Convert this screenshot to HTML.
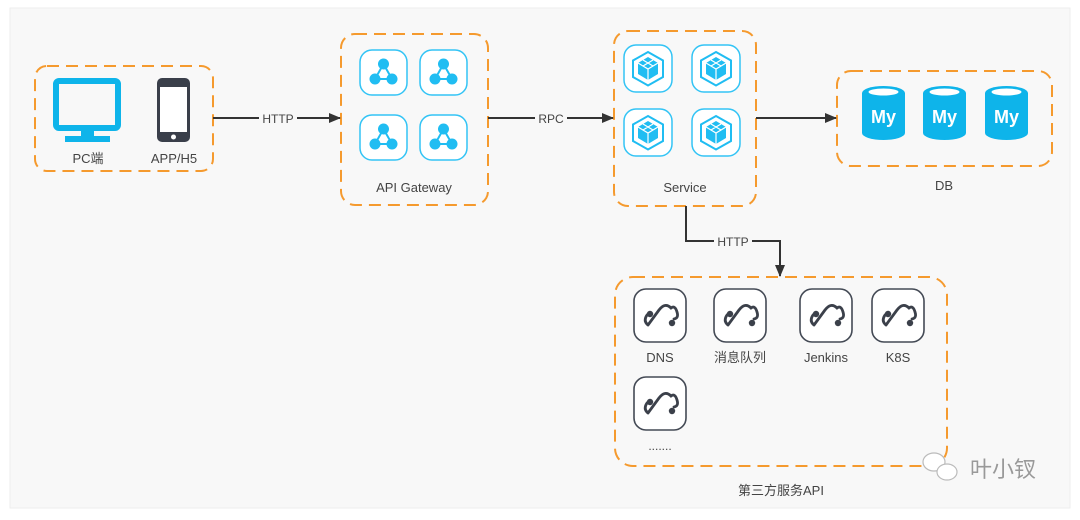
<!DOCTYPE html>
<html><head><meta charset="utf-8"><style>
body{margin:0;background:#fff;}
svg text{font-family:"Liberation Sans","Noto Sans CJK SC",sans-serif;fill:#444;}
</style></head><body>
<svg width="1080" height="515" xmlns="http://www.w3.org/2000/svg">
<defs>
<marker id="ar" markerWidth="12" markerHeight="10" refX="11" refY="5" orient="auto" markerUnits="userSpaceOnUse"><path d="M0,0 L12,5 L0,10 Z" fill="#333"/></marker>
<g id="gw">
<rect x="1" y="1" width="47" height="45" rx="12" fill="#fff" stroke="#33c4f5" stroke-width="1.5"/>
<circle cx="24.5" cy="15" r="5.5" fill="#20bdf2"/><circle cx="16" cy="30" r="5.5" fill="#20bdf2"/><circle cx="33" cy="30" r="5.5" fill="#20bdf2"/>
<path d="M24.5,15 L16,30 L33,30 Z" fill="none" stroke="#20bdf2" stroke-width="2"/>
</g>
<g id="sv">
<rect x="1" y="1" width="48" height="47" rx="12" fill="#fff" stroke="#33c4f5" stroke-width="1.5"/>
<path d="M25,8 L40,16.5 L40,33 L25,41.5 L10,33 L10,16.5 Z" fill="none" stroke="#20bdf2" stroke-width="2"/>
<path d="M25,13 L35,19 L35,30 L25,36 L15,30 L15,19 Z" fill="#20bdf2"/>
<path d="M15,19 L25,25 L35,19 M25,25 L25,36 M20,16 L30,22 M30,16 L20,22" stroke="#fff" stroke-width="1.2" fill="none"/>
</g>
<g id="db">
<path d="M0,7 L0,47 A21.5,7 0 0 0 43,47 L43,7 Z" fill="#0eb4ea"/>
<ellipse cx="21.5" cy="7" rx="21.5" ry="7" fill="#0eb4ea"/>
<ellipse cx="21.5" cy="6" rx="15" ry="3.5" fill="#fff"/>
<text x="21.5" y="37" text-anchor="middle" font-size="18" font-weight="bold" style="fill:#fff">My</text>
</g>
<g id="tp">
<rect x="1" y="1" width="52" height="53" rx="12" fill="#fff" stroke="#444a55" stroke-width="1.6"/>
<path d="M15,37 L26,22 Q32,14 38,20 Q42,17 44,24 Q46,30 41,31 M15,37 Q10,33 14,27" fill="none" stroke="#3b404a" stroke-width="2.8" stroke-linecap="round"/>
<circle cx="17" cy="26" r="3.2" fill="#3b404a"/><circle cx="39" cy="35" r="3.2" fill="#3b404a"/>
</g>
</defs>
<rect x="10" y="8" width="1060" height="500" fill="#f8f8f8" stroke="#eee"/>
<g fill="none" stroke="#f59a2e" stroke-width="2" stroke-dasharray="12,7">
<rect x="35" y="66" width="178" height="105" rx="12"/>
<rect x="341" y="34" width="147" height="171" rx="14"/>
<rect x="614" y="31" width="142" height="175" rx="14"/>
<rect x="837" y="71" width="215" height="95" rx="14"/>
<rect x="615" y="277" width="332" height="189" rx="18"/>
</g>
<rect x="56" y="81" width="62" height="47" rx="3" fill="none" stroke="#0eb4ea" stroke-width="6"/>
<rect x="81" y="130" width="13" height="8" fill="#0eb4ea"/>
<rect x="65" y="136" width="45" height="6" fill="#0eb4ea"/>
<rect x="157" y="78" width="33" height="64" rx="5" fill="#3a3f4a"/>
<rect x="160" y="87" width="27" height="45" fill="#fff"/>
<circle cx="173.5" cy="137" r="2.5" fill="#fff"/>
<text x="88" y="163" font-size="13" text-anchor="middle">PC端</text>
<text x="174" y="163" font-size="13" text-anchor="middle">APP/H5</text>
<use href="#gw" x="359" y="49"/><use href="#gw" x="419" y="49"/>
<use href="#gw" x="359" y="114"/><use href="#gw" x="419" y="114"/>
<text x="414" y="192" font-size="13" text-anchor="middle">API Gateway</text>
<use href="#sv" x="623" y="44"/><use href="#sv" x="691" y="44"/>
<use href="#sv" x="623" y="108"/><use href="#sv" x="691" y="108"/>
<text x="685" y="192" font-size="13" text-anchor="middle">Service</text>
<use href="#db" x="862" y="86"/><use href="#db" x="923" y="86"/><use href="#db" x="985" y="86"/>
<text x="944" y="190" font-size="13" text-anchor="middle">DB</text>
<use href="#tp" x="633" y="288"/><use href="#tp" x="713" y="288"/><use href="#tp" x="799" y="288"/><use href="#tp" x="871" y="288"/>
<use href="#tp" x="633" y="376"/>
<text x="660" y="362" font-size="13" text-anchor="middle">DNS</text>
<text x="740" y="362" font-size="13" text-anchor="middle">消息队列</text>
<text x="826" y="362" font-size="13" text-anchor="middle">Jenkins</text>
<text x="898" y="362" font-size="13" text-anchor="middle">K8S</text>
<text x="660" y="450" font-size="12" text-anchor="middle">.......</text>
<text x="781" y="495" font-size="13" text-anchor="middle">第三方服务API</text>
<g stroke="#333" stroke-width="2" fill="none">
<line x1="213" y1="118" x2="340" y2="118" marker-end="url(#ar)"/>
<line x1="488" y1="118" x2="613" y2="118" marker-end="url(#ar)"/>
<line x1="756" y1="118" x2="836" y2="118" marker-end="url(#ar)"/>
<polyline points="686,206 686,241 780,241 780,276" marker-end="url(#ar)"/>
</g>
<rect x="259" y="111" width="38" height="15" fill="#f8f8f8"/>
<text x="278" y="123" font-size="12" text-anchor="middle">HTTP</text>
<rect x="535" y="111" width="32" height="15" fill="#f8f8f8"/>
<text x="551" y="123" font-size="12" text-anchor="middle">RPC</text>
<rect x="714" y="234" width="38" height="15" fill="#f8f8f8"/>
<text x="733" y="246" font-size="12" text-anchor="middle">HTTP</text>
<g fill="#fff" stroke="#bbb" stroke-width="1.2">
<ellipse cx="934" cy="462" rx="11" ry="9"/><ellipse cx="947" cy="472" rx="10" ry="8"/>
</g>
<text x="970" y="477" font-size="22" style="fill:#999">叶小钗</text>
</svg>
</body></html>
